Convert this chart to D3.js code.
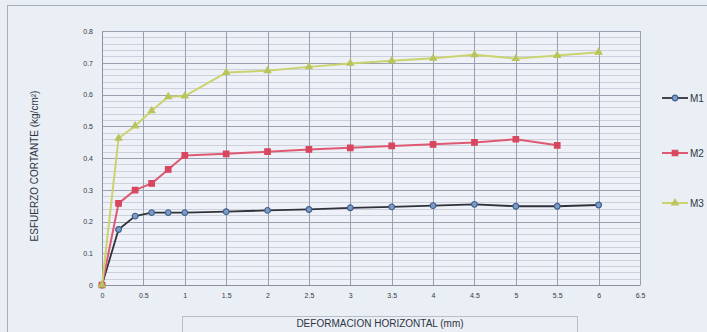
<!DOCTYPE html>
<html>
<head>
<meta charset="utf-8">
<script src="https://cdn.jsdelivr.net/npm/d3@7/dist/d3.min.js"></script>
<style>
  html, body { margin: 0; padding: 0; background: #e9edf4; }
  svg { display: block; }
  text { font-family: "Liberation Sans", Arial, sans-serif; }
</style>
</head>
<body>
<svg id="chart" width="707" height="332"></svg>
<script>
// Horizontal displacement (mm) at each reading
const deformacion = [0, 0.2, 0.4, 0.6, 0.8, 1, 1.5, 2, 2.5, 3, 3.5, 4, 4.5, 5, 5.5, 6];

// Shear stress (kg/cm²) for each specimen
const m1 = [0, 0.175, 0.217, 0.228, 0.228, 0.228, 0.231, 0.235, 0.238, 0.243, 0.246, 0.250, 0.254, 0.248, 0.248, 0.252];
const m2 = [0, 0.257, 0.299, 0.320, 0.364, 0.408, 0.413, 0.420, 0.427, 0.432, 0.438, 0.443, 0.449, 0.459, 0.440];
const m3 = [0, 0.462, 0.501, 0.549, 0.593, 0.595, 0.669, 0.675, 0.687, 0.698, 0.706, 0.714, 0.725, 0.713, 0.723, 0.733];

const seriesNames = ["M1", "M2", "M3"];
const xTicks = [0, 0.5, 1, 1.5, 2, 2.5, 3, 3.5, 4, 4.5, 5, 5.5, 6, 6.5];
const yTicks = [0, 0.1, 0.2, 0.3, 0.4, 0.5, 0.6, 0.7, 0.8];

const svg = d3.select("#chart");
const W = 707, H = 332;

const plot = { left: 102, right: 640, top: 31, bottom: 285 };
const x = d3.scaleLinear().domain([0, 6.5]).range([plot.left, plot.right]);
const y = d3.scaleLinear().domain([0, 0.8]).range([plot.bottom, plot.top]);

// Outer chart frame
svg.append("rect")
  .attr("x", 7.5).attr("y", 5.5)
  .attr("width", W).attr("height", H)
  .attr("fill", "#eaeef5").attr("stroke", "#a9aebb").attr("stroke-width", 1);

// Plot background
svg.append("rect")
  .attr("x", plot.left).attr("y", plot.top)
  .attr("width", plot.right - plot.left).attr("height", plot.bottom - plot.top)
  .attr("fill", "#eef1f7");

// Minor horizontal gridlines
const minor = d3.range(0, 0.8001, 0.02);
svg.append("g").selectAll("line").data(minor).join("line")
  .attr("x1", plot.left).attr("x2", plot.right)
  .attr("y1", d => Math.round(y(d)) + 0.5).attr("y2", d => Math.round(y(d)) + 0.5)
  .attr("stroke", "#c3c8d3").attr("stroke-width", 0.8);

// Major horizontal gridlines
svg.append("g").selectAll("line").data(yTicks).join("line")
  .attr("x1", plot.left).attr("x2", plot.right)
  .attr("y1", d => Math.round(y(d)) + 0.5).attr("y2", d => Math.round(y(d)) + 0.5)
  .attr("stroke", "#9aa0ad").attr("stroke-width", 1);

// Vertical gridlines
svg.append("g").selectAll("line").data(xTicks).join("line")
  .attr("y1", plot.top).attr("y2", plot.bottom)
  .attr("x1", d => Math.round(x(d)) + 0.5).attr("x2", d => Math.round(x(d)) + 0.5)
  .attr("stroke", "#9aa0ad").attr("stroke-width", 1);

// Axes
const xAxis = d3.axisBottom(x).tickValues(xTicks).tickSize(0).tickPadding(8)
  .tickFormat(d => String(d));
const gx = svg.append("g").attr("transform", `translate(0,${plot.bottom})`).call(xAxis);
gx.select(".domain").attr("stroke", "#8a90a0");
gx.selectAll("text").attr("font-size", 7).attr("fill", "#333a48");

const yAxis = d3.axisLeft(y).tickValues(yTicks).tickSize(0).tickPadding(9)
  .tickFormat(d => String(d));
const gy = svg.append("g").attr("transform", `translate(${plot.left},0)`).call(yAxis);
gy.select(".domain").attr("stroke", "#8a90a0");
gy.selectAll("text").attr("font-size", 7).attr("fill", "#333a48");

// Axis titles
svg.append("text")
  .attr("transform", `translate(38,${(plot.top + plot.bottom) / 2 + 8}) rotate(-90)`)
  .attr("text-anchor", "middle")
  .attr("font-size", 10).attr("fill", "#2f3542")
  .text("ESFUERZO CORTANTE (kg/cm²)");

svg.append("rect")
  .attr("x", 182.5).attr("y", 316.5).attr("width", 395).attr("height", 30)
  .attr("fill", "none").attr("stroke", "#b8bdc8");
svg.append("text")
  .attr("x", 380).attr("y", 327)
  .attr("text-anchor", "middle")
  .attr("font-size", 10).attr("fill", "#2f3542")
  .text("DEFORMACION HORIZONTAL (mm)");

// Series
const series = [
  { name: seriesNames[0], values: m1, line: "#30323a", fill: "#7d9bc4", stroke: "#3e5f8f", shape: d3.symbolCircle, size: 26, width: 1.8 },
  { name: seriesNames[1], values: m2, line: "#de5a72", fill: "#d8465f", stroke: "#d8465f", shape: d3.symbolSquare, size: 30, width: 2 },
  { name: seriesNames[2], values: m3, line: "#cbd36e", fill: "#b9c45a", stroke: "#b9c45a", shape: d3.symbolTriangle, size: 18, width: 2 }
];

const lineGen = d3.line().x(d => x(d[0])).y(d => y(d[1]));

series.forEach(s => {
  const pts = s.values.map((v, i) => [deformacion[i], v]);
  svg.append("path")
    .datum(pts)
    .attr("d", lineGen)
    .attr("fill", "none")
    .attr("stroke", s.line)
    .attr("stroke-width", s.width)
    .attr("stroke-linejoin", "round");
  svg.append("g").selectAll("path").data(pts).join("path")
    .attr("transform", d => `translate(${x(d[0])},${y(d[1])})`)
    .attr("d", d3.symbol().type(s.shape).size(s.size))
    .attr("fill", s.fill)
    .attr("stroke", s.stroke)
    .attr("stroke-width", 1.2);
});

// Legend
const legendY = [98, 153, 203];
series.forEach((s, i) => {
  const g = svg.append("g").attr("transform", `translate(662,${legendY[i]})`);
  g.append("line").attr("x1", 0).attr("x2", 26).attr("y1", 0).attr("y2", 0)
    .attr("stroke", s.line).attr("stroke-width", s.width);
  g.append("path").attr("transform", "translate(13,0)")
    .attr("d", d3.symbol().type(s.shape).size(s.size))
    .attr("fill", s.fill).attr("stroke", s.stroke).attr("stroke-width", 1.2);
  g.append("text").attr("x", 28).attr("y", 4)
    .attr("font-size", 10).attr("fill", "#2f3542")
    .text(s.name);
});
</script>
</body>
</html>
